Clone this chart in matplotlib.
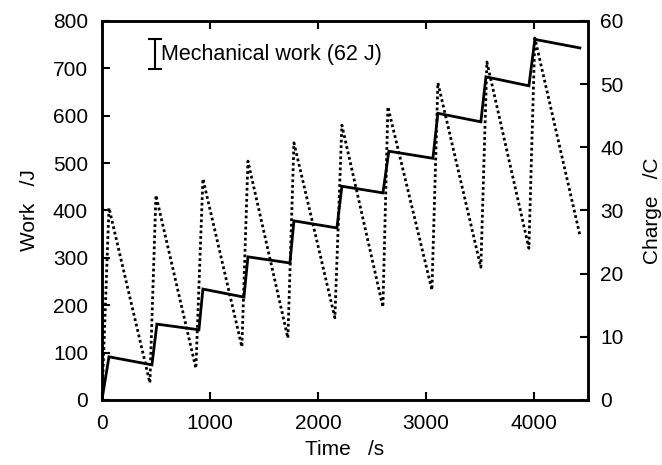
import matplotlib
matplotlib.use("Agg")
import matplotlib.pyplot as plt

plt.rcParams['font.family'] = ['Liberation Sans', 'DejaVu Sans']

# work (solid) : time /s, work /J
work_t = [0, 65, 463, 509, 898, 935, 1315, 1352, 1741, 1778, 2176, 2222, 2602,
          2657, 3065, 3111, 3509, 3556, 3954, 4009, 4426]
work_j = [0, 91, 74, 160, 148, 234, 217, 302, 289, 378, 363, 451, 437,
          525, 510, 605, 587, 682, 663, 761, 743]

# charge (dotted) : time /s, charge /C
charge_t = [0, 65, 444, 500, 870, 935, 1296, 1352, 1722, 1778, 2157, 2222, 2602,
            2648, 3056, 3111, 3509, 3565, 3954, 4009, 4426]
charge_c = [0, 30.4, 2.7, 32.4, 5.0, 35.0, 8.4, 37.8, 9.8, 40.7, 13.0, 43.5, 14.7,
            46.4, 17.4, 50.2, 21.0, 53.5, 24.0, 57.3, 26.1]

# scale bar for mechanical work
bar_t = 490
bar_center = 730
bar_len = 62

fig = plt.figure(figsize=(6.62, 4.65), dpi=100)
ax = fig.add_axes([0.154, 0.140, 0.734, 0.815])
ax2 = ax.twinx()

ax.plot(work_t, work_j, color='black', lw=2.0, solid_joinstyle='miter', zorder=3)
ax2.plot(charge_t, charge_c, color='black', lw=2.0, linestyle=(0, (1, 1)))

ax.errorbar([bar_t], [bar_center], yerr=[bar_len / 2], color='black', lw=1.5,
            capsize=5, capthick=1.5)
ax.text(bar_t + 60, bar_center, 'Mechanical work (62 J)', fontsize=15.5,
        va='center', ha='left')

ax.set_xlim(0, 4500)
ax.set_ylim(0, 800)
ax2.set_ylim(0, 60)
ax.set_xticks([0, 1000, 2000, 3000, 4000])
ax.set_yticks(range(0, 801, 100))
ax2.set_yticks(range(0, 61, 10))

ax.tick_params(axis='x', direction='in', length=6, width=1.5, labelsize=15, top=True, pad=10)
ax.tick_params(axis='y', direction='in', length=6, width=1.5, labelsize=15, pad=10)
ax2.tick_params(direction='in', length=6, width=1.5, labelsize=15, pad=9)
for a in (ax, ax2):
    for s in a.spines.values():
        s.set_linewidth(1.8)

ax.set_xlabel('Time   /s', fontsize=15, labelpad=5)
ax.set_ylabel('Work   /J', fontsize=15, labelpad=10)
ax2.set_ylabel('Charge   /C', fontsize=15, labelpad=14)

fig.savefig('out.png', dpi=100)
